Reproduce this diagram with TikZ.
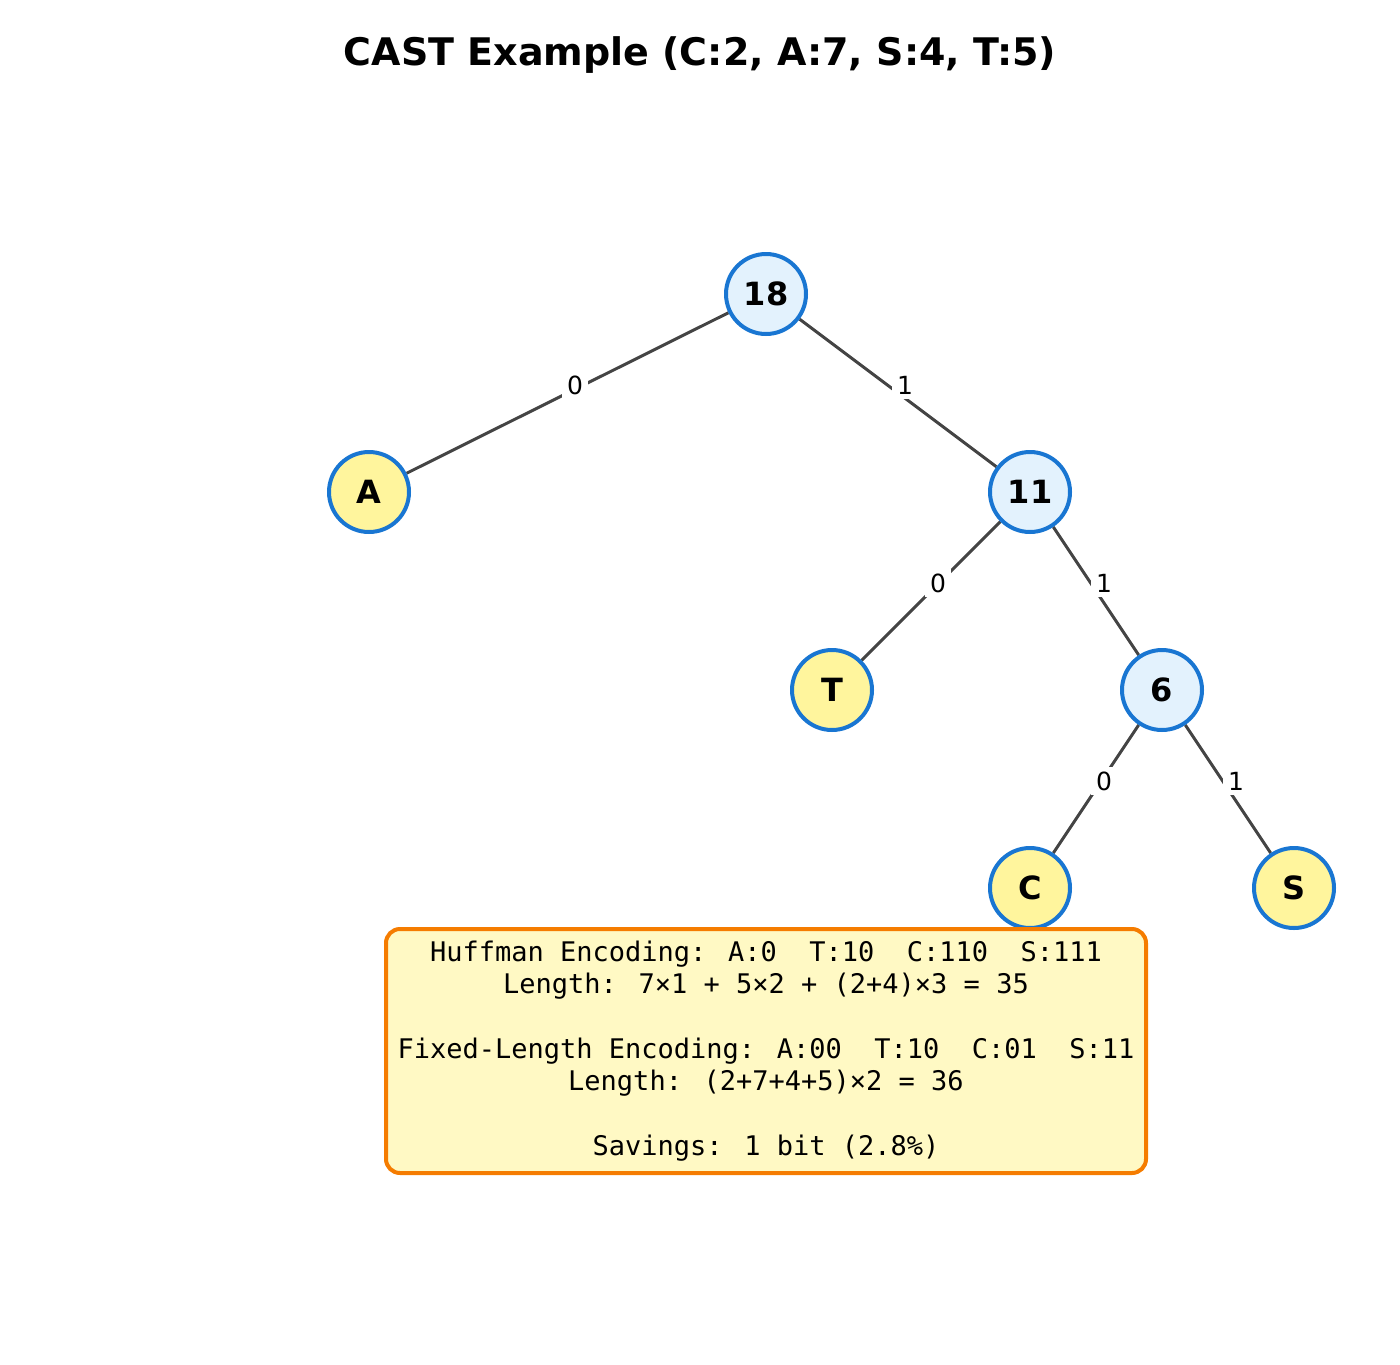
\documentclass[tikz,border=0pt]{standalone}
\usepackage{fontspec}
\setmainfont{DejaVu Sans}
\newfontfamily\monof{DejaVu Sans Mono}
\usetikzlibrary{backgrounds}
\definecolor{nodeblue}{HTML}{1976D2}
\definecolor{innerfill}{HTML}{E3F2FD}
\definecolor{leaffill}{HTML}{FFF59D}
\definecolor{edgegray}{HTML}{444444}
\definecolor{boxorange}{HTML}{F57C00}
\definecolor{boxfill}{HTML}{FFF9C4}
\begin{document}
\begin{tikzpicture}[x=1pt,y=-1pt,
  treenode/.style={circle, draw=nodeblue, line width=4pt, minimum size=80pt, inner sep=0pt,
    font=\fontsize{32}{38}\selectfont\bfseries},
  inner/.style={treenode, fill=innerfill},
  leaf/.style={treenode, fill=leaffill},
  edgeline/.style={draw=edgegray, line width=3pt},
  elab/.style={fill=white, inner sep=5pt, font=\fontsize{25}{30}\selectfont},
  infobox/.style={draw=boxorange, fill=boxfill, line width=4pt, rounded corners=14pt,
    minimum width=760pt, minimum height=244pt, align=center, inner sep=0pt,
    font=\monof\fontsize{27}{32.4}\selectfont}
]
\useasboundingbox (0,0) rectangle (1400,1365);
\node (title) at (700,55) {\fontsize{38}{45}\selectfont\bfseries CAST Example (C:2, A:7, S:4, T:5)};

\node[inner] (r) at (766,294) {18};
\node[leaf] (a) at (369,492) {A};
\node[inner] (n11) at (1030,492) {11};
\node[leaf] (t) at (832,690) {T};
\node[inner] (n6) at (1162,690) {6};
\node[leaf] (c) at (1030,888) {C};
\node[leaf] (s) at (1294,888) {S};

\begin{scope}[on background layer]
\draw[edgeline] (r) -- (a);
\draw[edgeline] (r) -- (n11);
\draw[edgeline] (n11) -- (t);
\draw[edgeline] (n11) -- (n6);
\draw[edgeline] (n6) -- (c);
\draw[edgeline] (n6) -- (s);
\end{scope}

\node[elab] (l1) at (575,385) {0};
\node[elab] (l2) at (905,385) {1};
\node[elab] (l3) at (938,583) {0};
\node[elab] (l4) at (1104,583) {1};
\node[elab] (l5) at (1104,781) {0};
\node[elab] (l6) at (1236,781) {1};

\node[infobox] (info) at (766,1051) {Huffman Encoding: A:0\ \ T:10\ \ C:110\ \ S:111\\
Length: 7×1 + 5×2 + (2+4)×3 = 35\\[32.4pt]
Fixed-Length Encoding: A:00\ \ T:10\ \ C:01\ \ S:11\\
Length: (2+7+4+5)×2 = 36\\[32.4pt]
Savings: 1 bit (2.8\%)};
\end{tikzpicture}
\end{document}
